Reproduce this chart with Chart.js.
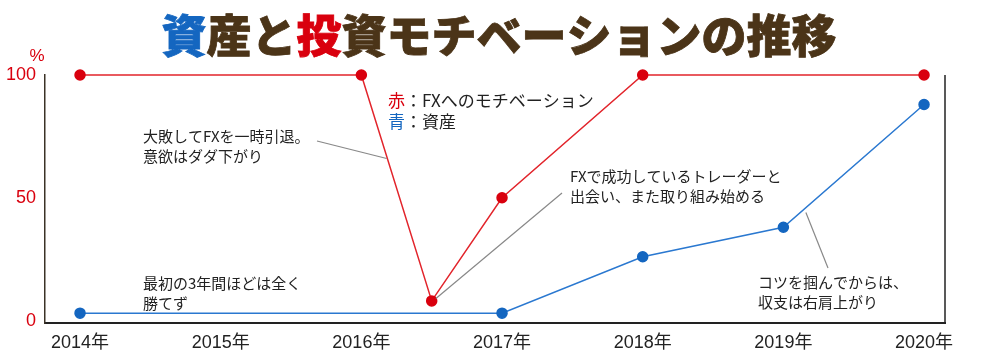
<!DOCTYPE html>
<html>
<head>
<meta charset="utf-8">
<script src="https://cdn.jsdelivr.net/npm/chart.js@4/dist/chart.umd.min.js"></script>
<style>
  body { margin: 0; background: #fff; }
  canvas { display: block; }
</style>
</head>
<body>
<canvas id="chart" width="1000" height="358"></canvas>
<script>
// motivation (red) and assets (blue)
const motivYears = [2014, 2016, 2016.5, 2017, 2018, 2020];
const motivValues = [100, 100, 8, 50, 100, 100];
const assetYears = [2014, 2017, 2018, 2019, 2020];
const assetValues = [3, 3, 26, 38, 88];
const yearTicks = [2014, 2015, 2016, 2017, 2018, 2019, 2020];
const valueTicks = [0, 50, 100];

const RED = "#d9000e";
const BLUE = "#1466c0";
const BROWN = "#4b3418";
const INK = "#222";
const JP = '"Noto Sans CJK JP", "Noto Sans", sans-serif';

const titleParts = [
  ["資", BLUE], ["産と", BROWN], ["投", RED], ["資モチベーションの推移", BROWN]
];

// notes: text lines at pixel spots, leader tip given in data units
const notes = [
  { lines: ["大敗してFXを一時引退。", "意欲はダダ下がり"], x: 143, y: 136, from: [317, 141], tip: [2016.18, 66] },
  { lines: ["FXで成功しているトレーダーと", "出会い、また取り組み始める"], x: 570, y: 176, from: [562, 193], tip: [2016.53, 9] },
  { lines: ["最初の3年間ほどは全く", "勝てず"], x: 143, y: 283 },
  { lines: ["コツを掴んでからは、", "収支は右肩上がり"], x: 758, y: 282, from: [828, 268], tip: [2019.16, 44] }
];

const decor = {
  id: "decor",
  afterDraw(chart) {
    const ctx = chart.ctx;
    const area = chart.chartArea;
    const xs = chart.scales.x, ys = chart.scales.y;
    ctx.save();

    // title, several colours
    ctx.font = "900 45px " + JP;
    ctx.textBaseline = "middle";
    ctx.textAlign = "left";
    let total = 0;
    titleParts.forEach(p => total += ctx.measureText(p[0]).width);
    let tx = 499 - total / 2;
    titleParts.forEach(([txt, col]) => {
      ctx.fillStyle = col;
      ctx.strokeStyle = col;
      ctx.lineWidth = 0.8;
      ctx.fillText(txt, tx, 36);
      ctx.strokeText(txt, tx, 36);
      tx += ctx.measureText(txt).width;
    });

    // % unit
    ctx.font = '17px "Liberation Sans", Arial, sans-serif';
    ctx.fillStyle = RED;
    ctx.textAlign = "center";
    ctx.fillText("%", 37, 56);

    // right frame line
    ctx.strokeStyle = INK;
    ctx.lineWidth = 1.5;
    ctx.beginPath();
    ctx.moveTo(area.right, area.top);
    ctx.lineTo(area.right, area.bottom);
    ctx.stroke();

    // legend text
    ctx.font = "17px " + JP;
    ctx.textAlign = "left";
    ctx.fillStyle = RED;
    ctx.fillText("赤", 388, 101);
    ctx.fillStyle = INK;
    ctx.fillText("：FXへのモチベーション", 388 + ctx.measureText("赤").width, 101);
    ctx.fillStyle = BLUE;
    ctx.fillText("青", 388, 122);
    ctx.fillStyle = INK;
    ctx.fillText("：資産", 388 + ctx.measureText("青").width, 122);

    // notes and leader lines
    ctx.font = "15px " + JP;
    notes.forEach(n => {
      ctx.fillStyle = INK;
      n.lines.forEach((l, i) => ctx.fillText(l, n.x, n.y + i * 20));
      if (n.tip) {
        ctx.strokeStyle = "#888";
        ctx.lineWidth = 1.2;
        ctx.beginPath();
        ctx.moveTo(n.from[0], n.from[1]);
        ctx.lineTo(xs.getPixelForValue(n.tip[0]), ys.getPixelForValue(n.tip[1]));
        ctx.stroke();
      }
    });
    ctx.restore();
  }
};

new Chart(document.getElementById("chart"), {
  type: "line",
  data: {
    datasets: [
      {
        label: "FXへのモチベーション",
        data: motivYears.map((y, i) => ({ x: y, y: motivValues[i] })),
        borderColor: "#e2242b",
        backgroundColor: RED,
        pointBackgroundColor: RED,
        pointBorderColor: RED,
        borderWidth: 1.5,
        pointRadius: 5,
        tension: 0,
        clip: false
      },
      {
        label: "資産",
        data: assetYears.map((y, i) => ({ x: y, y: assetValues[i] })),
        borderColor: "#2a78d0",
        backgroundColor: BLUE,
        pointBackgroundColor: BLUE,
        pointBorderColor: BLUE,
        borderWidth: 1.5,
        pointRadius: 5,
        tension: 0,
        clip: false
      }
    ]
  },
  options: {
    responsive: false,
    animation: false,
    devicePixelRatio: 1,
    layout: { padding: { top: 75, right: 55, left: 0, bottom: 0 } },
    plugins: { legend: { display: false }, tooltip: { enabled: false } },
    scales: {
      x: {
        type: "linear",
        min: 2013.751,
        max: 2020.149,
        afterBuildTicks: s => { s.ticks = yearTicks.map(v => ({ value: v })); },
        afterFit: s => { s.height = 35; },
        grid: { display: false, drawTicks: false },
        border: { color: INK, width: 2 },
        ticks: {
          padding: 9,
          color: INK,
          font: { family: '"Liberation Sans", Arial, "Noto Sans CJK JP", sans-serif', size: 18 },
          callback: v => v + "年"
        }
      },
      y: {
        min: -1,
        max: 100,
        afterBuildTicks: s => { s.ticks = valueTicks.map(v => ({ value: v })); },
        afterFit: s => { s.width = 45; },
        grid: { display: false, drawTicks: false },
        border: { color: "#3b3226", width: 1.5 },
        ticks: {
          padding: 9,
          color: RED,
          font: { family: '"Liberation Sans", Arial, sans-serif', size: 18 }
        }
      }
    }
  },
  plugins: [decor]
});
</script>
</body>
</html>
